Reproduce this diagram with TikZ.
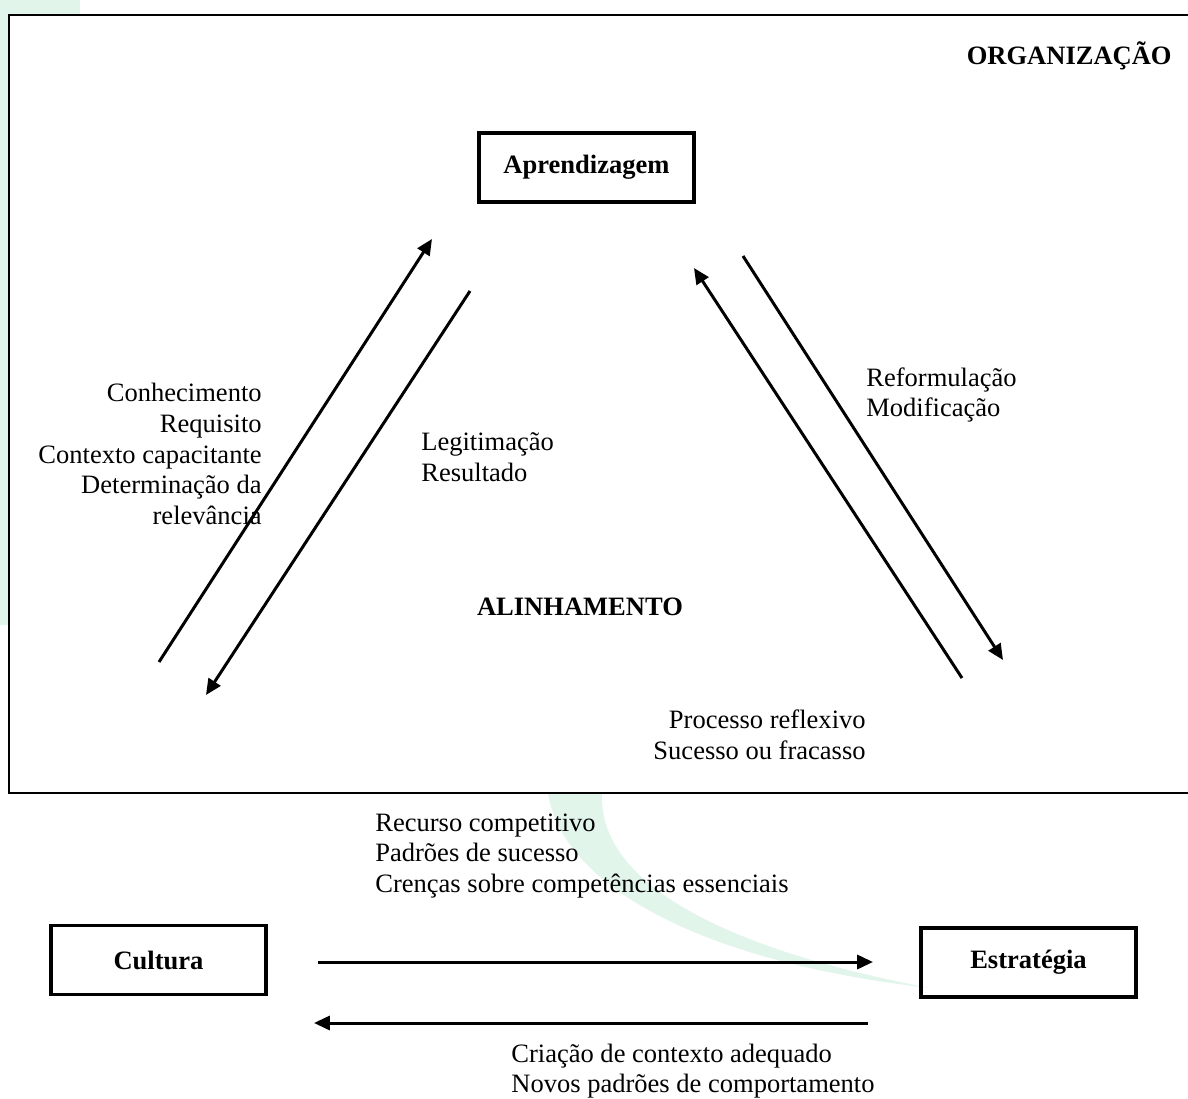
\documentclass[tikz,border=0pt]{standalone}
\usepackage{fontspec}
\setmainfont{Liberation Serif}
\usepackage{xcolor}
\usetikzlibrary{arrows.meta}
\definecolor{markgreen}{RGB}{226,245,235}
\newcommand{\textsz}{\fontsize{15.1pt}{17.5pt}\selectfont}

\begin{document}
\begin{tikzpicture}[x=0.02cm, y=-0.02cm,
	box/.style={draw, line width=1.8pt, minimum width=4.3cm, minimum height=1.38cm, font=\textsz\bfseries},
	lbl/.style={font=\textsz, inner sep=0pt},
	link/.style={line width=1.7pt, -{Triangle[length=9pt,width=8pt]}}]
	\useasboundingbox (0,0) rectangle (1188,1099);

	\fill[markgreen] (0,0) rectangle (80,15);
	\fill[markgreen] (0,0) rectangle (9,625);
	\fill[markgreen] (548,793) .. controls (562,885) and (700,962) .. (930,988)
		.. controls (720,948) and (598,882) .. (602,793) -- cycle;

	\draw[line width=1pt, fill=white] (9,15) rectangle (1200,793);

	\node (org) at (1172,56) [anchor=east, font=\textsz\bfseries, inner sep=0pt]
		{ORGANIZAÇÃO};
	\node (alin) at (580,607) [font=\textsz\bfseries, inner sep=0pt] {ALINHAMENTO};

	\node[box] (aprend) at (586.5,167.5) {Aprendizagem};
	\node[box] (cult) at (158.5,960) {Cultura};
	\node[box] (estr) at (1028.5,962.5) {Estratégia};

	\coordinate (lu-a) at (159,662);
	\coordinate (lu-b) at (432,239);
	\coordinate (ld-a) at (470,291);
	\coordinate (ld-b) at (206,695);
	\coordinate (ru-a) at (962,678);
	\coordinate (ru-b) at (694,268);
	\coordinate (rd-a) at (743,256);
	\coordinate (rd-b) at (1003,660);
	\coordinate (cu-a) at (318,962);
	\coordinate (cu-b) at (873,962);
	\coordinate (cd-a) at (868,1023);
	\coordinate (cd-b) at (314,1023);

	\draw[link] (lu-a) -- (lu-b);
	\draw[link] (ld-a) -- (ld-b);
	\draw[link] (ru-a) -- (ru-b);
	\draw[link] (rd-a) -- (rd-b);
	\draw[link] (cu-a) -- (cu-b);
	\draw[link] (cd-a) -- (cd-b);

	\node[lbl, anchor=east, align=right] (conhec) at (262,454)
		{Conhecimento\\Requisito\\Contexto capacitante\\Determinação da\\relevância};
	\node[lbl, anchor=west, align=left] (legit) at (421,457)
		{Legitimação\\Resultado};
	\node[lbl, anchor=west, align=left] (reform) at (866,395)
		{Reformulação\\Modificação};
	\node[lbl, anchor=east, align=right] (proc) at (866,735)
		{Processo reflexivo\\Sucesso ou fracasso};
	\node[lbl, anchor=west, align=left] (recur) at (375,856)
		{Recurso competitivo\\Padrões de sucesso\\Crenças sobre competências essenciais};
	\node[lbl, anchor=west, align=left] (criac) at (511,1071)
		{Criação de contexto adequado\\Novos padrões de comportamento};

\end{tikzpicture}
\end{document}
